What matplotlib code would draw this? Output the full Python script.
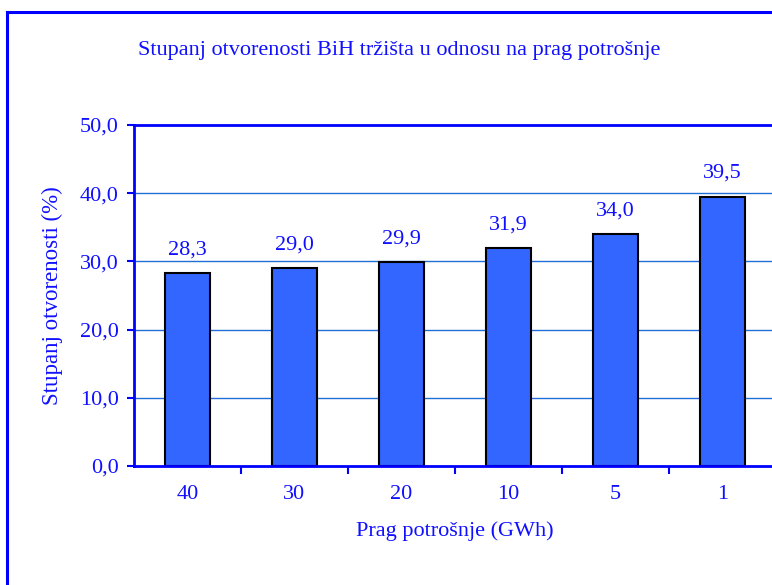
import matplotlib
matplotlib.use("Agg")
import matplotlib.pyplot as plt
from matplotlib.lines import Line2D
import numpy as np

categories = ["40", "30", "20", "10", "5", "1"]
values = [28.3, 29.0, 29.9, 31.9, 34.0, 39.5]
yticks = [0, 10, 20, 30, 40, 50]
title = "Stupanj otvorenosti BiH tržišta u odnosu na prag potrošnje"
xlabel = "Prag potrošnje (GWh)"
ylabel = "Stupanj otvorenosti (%)"

TXT = "#1010ff"
BLUE = "#0000ff"
GRID = "#1f6fd6"
BAR = "#3366ff"
FS = 16

plt.rcParams['font.family'] = ['Liberation Serif', 'DejaVu Serif']

fig = plt.figure(figsize=(7.72, 5.85), dpi=100)
ax = fig.add_axes([134/772, 1-466/585, 642/772, 341/585])

x = np.arange(len(categories))
ax.bar(x, values, width=0.42, color=BAR, edgecolor="black", linewidth=1.5, zorder=3)
for xi, v in zip(x, values):
    ax.text(xi, v + 2.0, f"{v:.1f}".replace(".", ","), ha="center", va="bottom",
            color=TXT, fontsize=FS)

ax.set_xlim(-0.5, len(categories) - 0.5)
ax.set_ylim(0, 50)
ax.set_yticks(yticks)
ax.set_yticklabels([f"{t:.1f}".replace(".", ",") for t in yticks], color=TXT, fontsize=FS)
ax.set_xticks(x)
ax.set_xticklabels(categories, color=TXT, fontsize=FS)
ax.set_xticks(np.arange(len(categories)) + 0.5, minor=True)
ax.tick_params(axis="x", which="major", length=0, pad=14)
ax.tick_params(axis="x", which="minor", length=6, width=1.5, color=BLUE, direction="out")
ax.tick_params(axis="y", length=5, width=1.5, color=BLUE, direction="out", pad=6)

for yv in yticks[1:-1]:
    ax.axhline(yv, color=GRID, linewidth=1.0, zorder=1)
ax.axhline(50, color=BLUE, linewidth=2, zorder=2, clip_on=False)

for s in ["top", "right"]:
    ax.spines[s].set_visible(False)
for s in ["left", "bottom"]:
    ax.spines[s].set_color(BLUE)
    ax.spines[s].set_linewidth(2)
ax.spines["bottom"].set_zorder(4)

ax.set_xlabel(xlabel, color=TXT, fontsize=FS, labelpad=12)
ax.set_ylabel(ylabel, color=TXT, fontsize=16.5, labelpad=12)

fig.text(399/772, 1-50/585, title, ha="center", va="center", color=TXT, fontsize=16)

# figure border (extends beyond the image on right/bottom)
fig.add_artist(Line2D([7/772, 7/772], [0, 1-12/585], color=BLUE, linewidth=2.2,
                      transform=fig.transFigure))
fig.add_artist(Line2D([7/772, 1], [1-12/585, 1-12/585], color=BLUE, linewidth=2.2,
                      transform=fig.transFigure))

fig.savefig("out.png", dpi=100)
